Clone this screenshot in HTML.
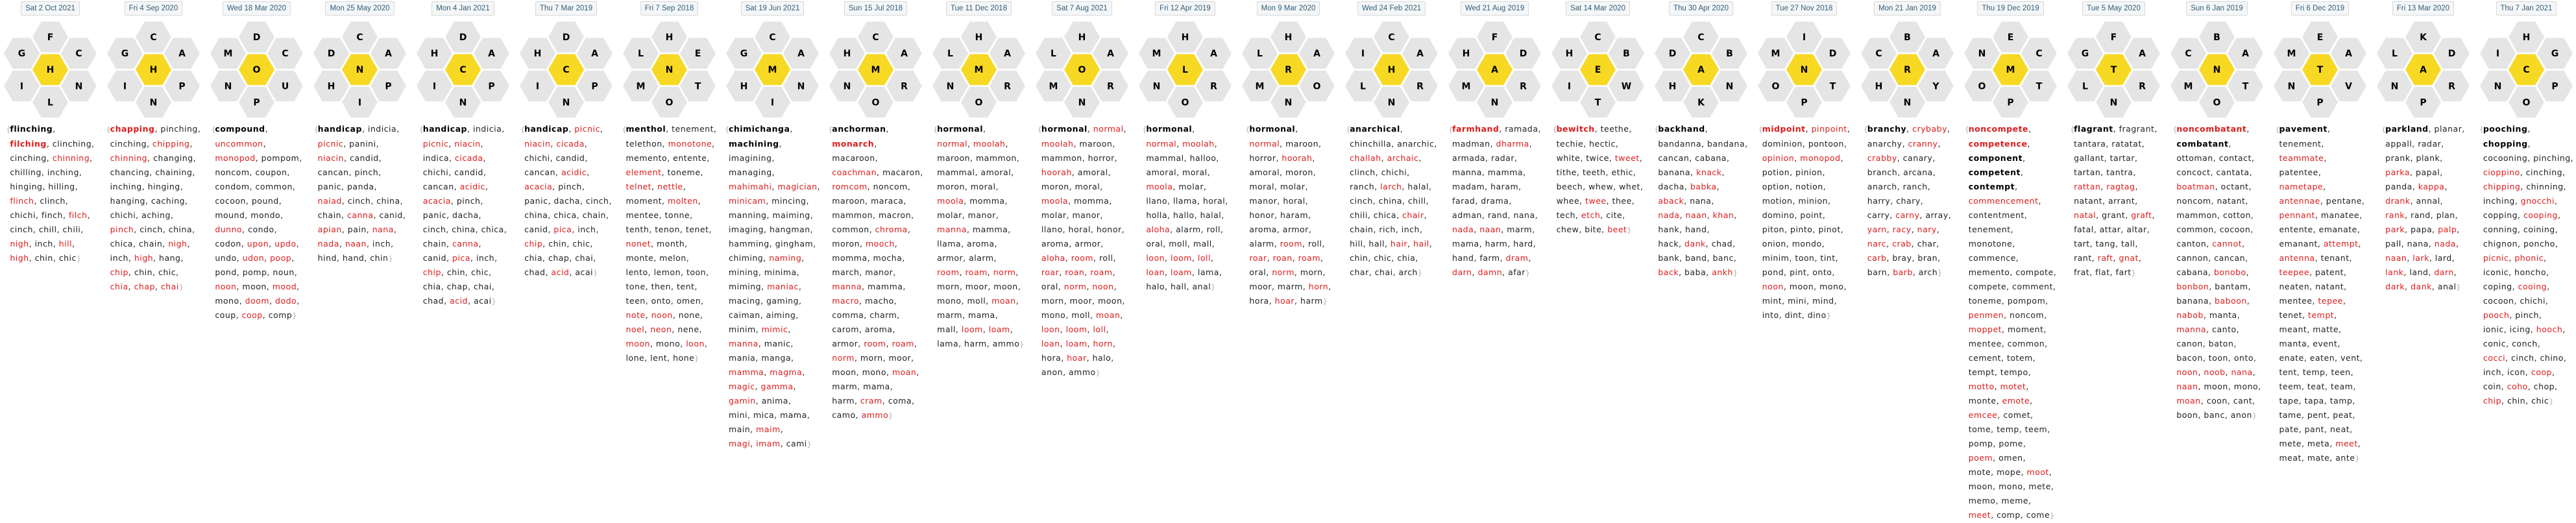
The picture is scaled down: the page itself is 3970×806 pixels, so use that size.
<!DOCTYPE html>
<html><head><meta charset="utf-8">
<style>
html,body{margin:0;padding:0;background:#fff;}
body{width:3970px;height:802px;position:relative;overflow:hidden;}
.c{position:absolute;top:0;width:159px;height:802px;text-align:center;}
.d{display:inline-block;margin-top:2px;height:20px;line-height:20px;padding:0 6px;border:1px solid #d8d8d8;border-radius:2px;background:#f5f6f7;font-family:"Liberation Sans",sans-serif;font-size:11.5px;color:#2f5d7c;white-space:nowrap;}
.w{position:absolute;top:188px;left:0;width:159px;text-align:center;}
.b{display:inline-block;text-align:left;padding-left:6px;font-family:"DejaVu Sans","Liberation Sans",sans-serif;font-size:12.5px;line-height:22px;letter-spacing:0.5px;color:#222;white-space:nowrap;}
.b i{font-style:normal;color:#e01b1b;}
.b b{font-weight:bold;color:#000;}
.b b.r{color:#e01b1b;}
.o{display:inline-block;width:6px;margin-left:-6px;color:#aaa;font-size:11px;letter-spacing:0;}
.e{color:#aaa;font-size:11px;}
svg text{font-family:"DejaVu Sans","Liberation Sans",sans-serif;font-weight:bold;font-size:14px;text-anchor:middle;fill:#000;}
</style></head><body>

<svg width="3970" height="190" style="position:absolute;left:0;top:0" xmlns="http://www.w3.org/2000/svg">
<defs>
<polygon id="h" points="-27.5,0 -13.75,-23.8 13.75,-23.8 27.5,0 13.75,23.8 -13.75,23.8"/>
<g id="k">
<use href="#h" x="0" y="57" fill="#e5e5e5"/>
<use href="#h" x="-44" y="82.2" fill="#e5e5e5"/>
<use href="#h" x="44" y="82.2" fill="#e5e5e5"/>
<use href="#h" x="0" y="107.3" fill="#f7d923"/>
<use href="#h" x="-44" y="132.5" fill="#e5e5e5"/>
<use href="#h" x="44" y="132.5" fill="#e5e5e5"/>
<use href="#h" x="0" y="157.5" fill="#e5e5e5"/>
</g>
</defs>
<g transform="translate(77.5,0)"><use href="#k"/><text x="0" y="62">F</text><text x="-44" y="87">G</text><text x="44" y="87">C</text><text x="0" y="112">H</text><text x="-44" y="137.5">I</text><text x="44" y="137.5">N</text><text x="0" y="162.5">L</text></g>
<g transform="translate(236.5,0)"><use href="#k"/><text x="0" y="62">C</text><text x="-44" y="87">G</text><text x="44" y="87">A</text><text x="0" y="112">H</text><text x="-44" y="137.5">I</text><text x="44" y="137.5">P</text><text x="0" y="162.5">N</text></g>
<g transform="translate(395.5,0)"><use href="#k"/><text x="0" y="62">D</text><text x="-44" y="87">M</text><text x="44" y="87">C</text><text x="0" y="112">O</text><text x="-44" y="137.5">N</text><text x="44" y="137.5">U</text><text x="0" y="162.5">P</text></g>
<g transform="translate(554.5,0)"><use href="#k"/><text x="0" y="62">C</text><text x="-44" y="87">D</text><text x="44" y="87">A</text><text x="0" y="112">N</text><text x="-44" y="137.5">H</text><text x="44" y="137.5">P</text><text x="0" y="162.5">I</text></g>
<g transform="translate(713.5,0)"><use href="#k"/><text x="0" y="62">D</text><text x="-44" y="87">H</text><text x="44" y="87">A</text><text x="0" y="112">C</text><text x="-44" y="137.5">I</text><text x="44" y="137.5">P</text><text x="0" y="162.5">N</text></g>
<g transform="translate(872.5,0)"><use href="#k"/><text x="0" y="62">D</text><text x="-44" y="87">H</text><text x="44" y="87">A</text><text x="0" y="112">C</text><text x="-44" y="137.5">I</text><text x="44" y="137.5">P</text><text x="0" y="162.5">N</text></g>
<g transform="translate(1031.5,0)"><use href="#k"/><text x="0" y="62">H</text><text x="-44" y="87">L</text><text x="44" y="87">E</text><text x="0" y="112">N</text><text x="-44" y="137.5">M</text><text x="44" y="137.5">T</text><text x="0" y="162.5">O</text></g>
<g transform="translate(1190.5,0)"><use href="#k"/><text x="0" y="62">C</text><text x="-44" y="87">G</text><text x="44" y="87">A</text><text x="0" y="112">M</text><text x="-44" y="137.5">H</text><text x="44" y="137.5">N</text><text x="0" y="162.5">I</text></g>
<g transform="translate(1349.5,0)"><use href="#k"/><text x="0" y="62">C</text><text x="-44" y="87">H</text><text x="44" y="87">A</text><text x="0" y="112">M</text><text x="-44" y="137.5">N</text><text x="44" y="137.5">R</text><text x="0" y="162.5">O</text></g>
<g transform="translate(1508.5,0)"><use href="#k"/><text x="0" y="62">H</text><text x="-44" y="87">L</text><text x="44" y="87">A</text><text x="0" y="112">M</text><text x="-44" y="137.5">N</text><text x="44" y="137.5">R</text><text x="0" y="162.5">O</text></g>
<g transform="translate(1667.5,0)"><use href="#k"/><text x="0" y="62">H</text><text x="-44" y="87">L</text><text x="44" y="87">A</text><text x="0" y="112">O</text><text x="-44" y="137.5">M</text><text x="44" y="137.5">R</text><text x="0" y="162.5">N</text></g>
<g transform="translate(1826.5,0)"><use href="#k"/><text x="0" y="62">H</text><text x="-44" y="87">M</text><text x="44" y="87">A</text><text x="0" y="112">L</text><text x="-44" y="137.5">N</text><text x="44" y="137.5">R</text><text x="0" y="162.5">O</text></g>
<g transform="translate(1985.5,0)"><use href="#k"/><text x="0" y="62">H</text><text x="-44" y="87">L</text><text x="44" y="87">A</text><text x="0" y="112">R</text><text x="-44" y="137.5">M</text><text x="44" y="137.5">O</text><text x="0" y="162.5">N</text></g>
<g transform="translate(2144.5,0)"><use href="#k"/><text x="0" y="62">C</text><text x="-44" y="87">I</text><text x="44" y="87">A</text><text x="0" y="112">H</text><text x="-44" y="137.5">L</text><text x="44" y="137.5">R</text><text x="0" y="162.5">N</text></g>
<g transform="translate(2303.5,0)"><use href="#k"/><text x="0" y="62">F</text><text x="-44" y="87">H</text><text x="44" y="87">D</text><text x="0" y="112">A</text><text x="-44" y="137.5">M</text><text x="44" y="137.5">R</text><text x="0" y="162.5">N</text></g>
<g transform="translate(2462.5,0)"><use href="#k"/><text x="0" y="62">C</text><text x="-44" y="87">H</text><text x="44" y="87">B</text><text x="0" y="112">E</text><text x="-44" y="137.5">I</text><text x="44" y="137.5">W</text><text x="0" y="162.5">T</text></g>
<g transform="translate(2621.5,0)"><use href="#k"/><text x="0" y="62">C</text><text x="-44" y="87">D</text><text x="44" y="87">B</text><text x="0" y="112">A</text><text x="-44" y="137.5">H</text><text x="44" y="137.5">N</text><text x="0" y="162.5">K</text></g>
<g transform="translate(2780.5,0)"><use href="#k"/><text x="0" y="62">I</text><text x="-44" y="87">M</text><text x="44" y="87">D</text><text x="0" y="112">N</text><text x="-44" y="137.5">O</text><text x="44" y="137.5">T</text><text x="0" y="162.5">P</text></g>
<g transform="translate(2939.5,0)"><use href="#k"/><text x="0" y="62">B</text><text x="-44" y="87">C</text><text x="44" y="87">A</text><text x="0" y="112">R</text><text x="-44" y="137.5">H</text><text x="44" y="137.5">Y</text><text x="0" y="162.5">N</text></g>
<g transform="translate(3098.5,0)"><use href="#k"/><text x="0" y="62">E</text><text x="-44" y="87">N</text><text x="44" y="87">C</text><text x="0" y="112">M</text><text x="-44" y="137.5">O</text><text x="44" y="137.5">T</text><text x="0" y="162.5">P</text></g>
<g transform="translate(3257.5,0)"><use href="#k"/><text x="0" y="62">F</text><text x="-44" y="87">G</text><text x="44" y="87">A</text><text x="0" y="112">T</text><text x="-44" y="137.5">L</text><text x="44" y="137.5">R</text><text x="0" y="162.5">N</text></g>
<g transform="translate(3416.5,0)"><use href="#k"/><text x="0" y="62">B</text><text x="-44" y="87">C</text><text x="44" y="87">A</text><text x="0" y="112">N</text><text x="-44" y="137.5">M</text><text x="44" y="137.5">T</text><text x="0" y="162.5">O</text></g>
<g transform="translate(3575.5,0)"><use href="#k"/><text x="0" y="62">E</text><text x="-44" y="87">M</text><text x="44" y="87">A</text><text x="0" y="112">T</text><text x="-44" y="137.5">N</text><text x="44" y="137.5">V</text><text x="0" y="162.5">P</text></g>
<g transform="translate(3734.5,0)"><use href="#k"/><text x="0" y="62">K</text><text x="-44" y="87">L</text><text x="44" y="87">D</text><text x="0" y="112">A</text><text x="-44" y="137.5">N</text><text x="44" y="137.5">R</text><text x="0" y="162.5">P</text></g>
<g transform="translate(3893.5,0)"><use href="#k"/><text x="0" y="62">H</text><text x="-44" y="87">I</text><text x="44" y="87">G</text><text x="0" y="112">C</text><text x="-44" y="137.5">N</text><text x="44" y="137.5">P</text><text x="0" y="162.5">O</text></g>
</svg>

<div class="c" style="left:-2px"><div class="d">Sat 2 Oct 2021</div><div class="w"><div class="b"><span class="o">{</span><b>flinching</b>,<br><b class="r">filching</b>, clinching,<br>cinching, <i>chinning</i>,<br>chilling, inching,<br>hinging, hilling,<br><i>flinch</i>, clinch,<br>chichi, finch, <i>filch</i>,<br>cinch, chill, chili,<br><i>nigh</i>, inch, <i>hill</i>,<br><i>high</i>, chin, chic<span class="e">}</span></div></div></div>

<div class="c" style="left:157px"><div class="d">Fri 4 Sep 2020</div><div class="w"><div class="b"><span class="o">{</span><b class="r">chapping</b>, pinching,<br>cinching, <i>chipping</i>,<br><i>chinning</i>, changing,<br>chancing, chaining,<br>inching, hinging,<br>hanging, caching,<br>chichi, aching,<br><i>pinch</i>, cinch, china,<br>chica, chain, <i>nigh</i>,<br>inch, <i>high</i>, hang,<br><i>chip</i>, chin, chic,<br><i>chia</i>, <i>chap</i>, <i>chai</i><span class="e">}</span></div></div></div>

<div class="c" style="left:316px"><div class="d">Wed 18 Mar 2020</div><div class="w"><div class="b"><span class="o">{</span><b>compound</b>,<br><i>uncommon</i>,<br><i>monopod</i>, pompom,<br>noncom, coupon,<br>condom, common,<br>cocoon, pound,<br>mound, mondo,<br><i>dunno</i>, condo,<br>codon, <i>upon</i>, <i>updo</i>,<br>undo, <i>udon</i>, <i>poop</i>,<br>pond, pomp, noun,<br><i>noon</i>, moon, <i>mood</i>,<br>mono, <i>doom</i>, <i>dodo</i>,<br>coup, <i>coop</i>, comp<span class="e">}</span></div></div></div>

<div class="c" style="left:475px"><div class="d">Mon 25 May 2020</div><div class="w"><div class="b"><span class="o">{</span><b>handicap</b>, indicia,<br><i>picnic</i>, panini,<br><i>niacin</i>, candid,<br>cancan, pinch,<br>panic, panda,<br><i>naiad</i>, cinch, china,<br>chain, <i>canna</i>, canid,<br><i>apian</i>, pain, <i>nana</i>,<br><i>nada</i>, <i>naan</i>, inch,<br>hind, hand, chin<span class="e">}</span></div></div></div>

<div class="c" style="left:634px"><div class="d">Mon 4 Jan 2021</div><div class="w"><div class="b"><span class="o">{</span><b>handicap</b>, indicia,<br><i>picnic</i>, <i>niacin</i>,<br>indica, <i>cicada</i>,<br>chichi, candid,<br>cancan, <i>acidic</i>,<br><i>acacia</i>, pinch,<br>panic, dacha,<br>cinch, china, chica,<br>chain, <i>canna</i>,<br>canid, <i>pica</i>, inch,<br><i>chip</i>, chin, chic,<br>chia, chap, chai,<br>chad, <i>acid</i>, acai<span class="e">}</span></div></div></div>

<div class="c" style="left:793px"><div class="d">Thu 7 Mar 2019</div><div class="w"><div class="b"><span class="o">{</span><b>handicap</b>, <i>picnic</i>,<br><i>niacin</i>, <i>cicada</i>,<br>chichi, candid,<br>cancan, <i>acidic</i>,<br><i>acacia</i>, pinch,<br>panic, dacha, cinch,<br>china, chica, chain,<br>canid, <i>pica</i>, inch,<br><i>chip</i>, chin, chic,<br>chia, chap, chai,<br>chad, <i>acid</i>, acai<span class="e">}</span></div></div></div>

<div class="c" style="left:952px"><div class="d">Fri 7 Sep 2018</div><div class="w"><div class="b"><span class="o">{</span><b>menthol</b>, tenement,<br>telethon, <i>monotone</i>,<br>memento, entente,<br><i>element</i>, toneme,<br><i>telnet</i>, <i>nettle</i>,<br>moment, <i>molten</i>,<br>mentee, tonne,<br>tenth, tenon, tenet,<br><i>nonet</i>, month,<br>monte, melon,<br>lento, lemon, toon,<br>tone, then, tent,<br>teen, onto, omen,<br><i>note</i>, <i>noon</i>, none,<br><i>noel</i>, <i>neon</i>, nene,<br><i>moon</i>, mono, <i>loon</i>,<br>lone, lent, hone<span class="e">}</span></div></div></div>

<div class="c" style="left:1111px"><div class="d">Sat 19 Jun 2021</div><div class="w"><div class="b"><span class="o">{</span><b>chimichanga</b>,<br><b>machining</b>,<br>imagining,<br>managing,<br><i>mahimahi</i>, <i>magician</i>,<br><i>minicam</i>, mincing,<br>manning, maiming,<br>imaging, hangman,<br>hamming, gingham,<br>chiming, <i>naming</i>,<br>mining, minima,<br>miming, <i>maniac</i>,<br>macing, gaming,<br>caiman, aiming,<br>minim, <i>mimic</i>,<br><i>manna</i>, manic,<br>mania, manga,<br><i>mamma</i>, <i>magma</i>,<br><i>magic</i>, <i>gamma</i>,<br><i>gamin</i>, anima,<br>mini, mica, mama,<br>main, <i>maim</i>,<br><i>magi</i>, <i>imam</i>, cami<span class="e">}</span></div></div></div>

<div class="c" style="left:1270px"><div class="d">Sun 15 Jul 2018</div><div class="w"><div class="b"><span class="o">{</span><b>anchorman</b>,<br><b class="r">monarch</b>,<br>macaroon,<br><i>coachman</i>, macaron,<br><i>romcom</i>, noncom,<br>maroon, maraca,<br>mammon, macron,<br>common, <i>chroma</i>,<br>moron, <i>mooch</i>,<br>momma, mocha,<br>march, manor,<br><i>manna</i>, mamma,<br><i>macro</i>, macho,<br>comma, charm,<br>carom, aroma,<br>armor, <i>room</i>, <i>roam</i>,<br><i>norm</i>, morn, moor,<br>moon, mono, <i>moan</i>,<br>marm, mama,<br>harm, <i>cram</i>, coma,<br>camo, <i>ammo</i><span class="e">}</span></div></div></div>

<div class="c" style="left:1429px"><div class="d">Tue 11 Dec 2018</div><div class="w"><div class="b"><span class="o">{</span><b>hormonal</b>,<br><i>normal</i>, <i>moolah</i>,<br>maroon, mammon,<br>mammal, amoral,<br>moron, moral,<br><i>moola</i>, momma,<br>molar, manor,<br><i>manna</i>, mamma,<br>llama, aroma,<br>armor, alarm,<br><i>room</i>, <i>roam</i>, <i>norm</i>,<br>morn, moor, moon,<br>mono, moll, <i>moan</i>,<br>marm, mama,<br>mall, <i>loom</i>, <i>loam</i>,<br>lama, harm, ammo<span class="e">}</span></div></div></div>

<div class="c" style="left:1588px"><div class="d">Sat 7 Aug 2021</div><div class="w"><div class="b"><span class="o">{</span><b>hormonal</b>, <i>normal</i>,<br><i>moolah</i>, maroon,<br>mammon, horror,<br><i>hoorah</i>, amoral,<br>moron, moral,<br><i>moola</i>, momma,<br>molar, manor,<br>llano, horal, honor,<br>aroma, armor,<br><i>aloha</i>, <i>room</i>, roll,<br><i>roar</i>, <i>roan</i>, <i>roam</i>,<br>oral, <i>norm</i>, <i>noon</i>,<br>morn, moor, moon,<br>mono, moll, <i>moan</i>,<br><i>loon</i>, <i>loom</i>, <i>loll</i>,<br><i>loan</i>, <i>loam</i>, <i>horn</i>,<br>hora, <i>hoar</i>, halo,<br>anon, ammo<span class="e">}</span></div></div></div>

<div class="c" style="left:1747px"><div class="d">Fri 12 Apr 2019</div><div class="w"><div class="b"><span class="o">{</span><b>hormonal</b>,<br><i>normal</i>, <i>moolah</i>,<br>mammal, halloo,<br>amoral, moral,<br><i>moola</i>, molar,<br>llano, llama, horal,<br>holla, hallo, halal,<br><i>aloha</i>, alarm, roll,<br>oral, moll, mall,<br><i>loon</i>, <i>loom</i>, <i>loll</i>,<br><i>loan</i>, <i>loam</i>, lama,<br>halo, hall, anal<span class="e">}</span></div></div></div>

<div class="c" style="left:1906px"><div class="d">Mon 9 Mar 2020</div><div class="w"><div class="b"><span class="o">{</span><b>hormonal</b>,<br><i>normal</i>, maroon,<br>horror, <i>hoorah</i>,<br>amoral, moron,<br>moral, molar,<br>manor, horal,<br>honor, haram,<br>aroma, armor,<br>alarm, <i>room</i>, roll,<br><i>roar</i>, <i>roan</i>, <i>roam</i>,<br>oral, <i>norm</i>, morn,<br>moor, marm, <i>horn</i>,<br>hora, <i>hoar</i>, harm<span class="e">}</span></div></div></div>

<div class="c" style="left:2065px"><div class="d">Wed 24 Feb 2021</div><div class="w"><div class="b"><span class="o">{</span><b>anarchical</b>,<br>chinchilla, anarchic,<br><i>challah</i>, <i>archaic</i>,<br>clinch, chichi,<br>ranch, <i>larch</i>, halal,<br>cinch, china, chill,<br>chili, chica, <i>chair</i>,<br>chain, rich, inch,<br>hill, hall, <i>hair</i>, <i>hail</i>,<br>chin, chic, chia,<br>char, chai, arch<span class="e">}</span></div></div></div>

<div class="c" style="left:2224px"><div class="d">Wed 21 Aug 2019</div><div class="w"><div class="b"><span class="o">{</span><b class="r">farmhand</b>, ramada,<br>madman, <i>dharma</i>,<br>armada, radar,<br>manna, mamma,<br>madam, haram,<br>farad, drama,<br>adman, rand, nana,<br><i>nada</i>, <i>naan</i>, marm,<br>mama, harm, hard,<br>hand, farm, <i>dram</i>,<br><i>darn</i>, <i>damn</i>, afar<span class="e">}</span></div></div></div>

<div class="c" style="left:2383px"><div class="d">Sat 14 Mar 2020</div><div class="w"><div class="b"><span class="o">{</span><b class="r">bewitch</b>, teethe,<br>techie, hectic,<br>white, twice, <i>tweet</i>,<br>tithe, teeth, ethic,<br>beech, whew, whet,<br>whee, <i>twee</i>, thee,<br>tech, <i>etch</i>, cite,<br>chew, bite, <i>beet</i><span class="e">}</span></div></div></div>

<div class="c" style="left:2542px"><div class="d">Thu 30 Apr 2020</div><div class="w"><div class="b"><span class="o">{</span><b>backhand</b>,<br>bandanna, bandana,<br>cancan, cabana,<br>banana, <i>knack</i>,<br>dacha, <i>babka</i>,<br><i>aback</i>, nana,<br><i>nada</i>, <i>naan</i>, <i>khan</i>,<br>hank, hand,<br>hack, <i>dank</i>, chad,<br>bank, band, banc,<br><i>back</i>, baba, <i>ankh</i><span class="e">}</span></div></div></div>

<div class="c" style="left:2701px"><div class="d">Tue 27 Nov 2018</div><div class="w"><div class="b"><span class="o">{</span><b class="r">midpoint</b>, <i>pinpoint</i>,<br>dominion, pontoon,<br><i>opinion</i>, <i>monopod</i>,<br>potion, pinion,<br>option, notion,<br>motion, minion,<br>domino, point,<br>piton, pinto, pinot,<br>onion, mondo,<br>minim, toon, tint,<br>pond, pint, onto,<br><i>noon</i>, moon, mono,<br>mint, mini, mind,<br>into, dint, dino<span class="e">}</span></div></div></div>

<div class="c" style="left:2860px"><div class="d">Mon 21 Jan 2019</div><div class="w"><div class="b"><span class="o">{</span><b>branchy</b>, <i>crybaby</i>,<br>anarchy, <i>cranny</i>,<br><i>crabby</i>, canary,<br>branch, arcana,<br>anarch, ranch,<br>harry, chary,<br>carry, <i>carny</i>, array,<br><i>yarn</i>, <i>racy</i>, <i>nary</i>,<br><i>narc</i>, <i>crab</i>, char,<br><i>carb</i>, bray, bran,<br>barn, <i>barb</i>, arch<span class="e">}</span></div></div></div>

<div class="c" style="left:3019px"><div class="d">Thu 19 Dec 2019</div><div class="w"><div class="b"><span class="o">{</span><b class="r">noncompete</b>,<br><b class="r">competence</b>,<br><b>component</b>,<br><b>competent</b>,<br><b>contempt</b>,<br><i>commencement</i>,<br>contentment,<br>tenement,<br>monotone,<br>commence,<br>memento, compote,<br>compete, comment,<br>toneme, pompom,<br><i>penmen</i>, noncom,<br><i>moppet</i>, moment,<br>mentee, common,<br>cement, totem,<br>tempt, tempo,<br><i>motto</i>, <i>motet</i>,<br>monte, <i>emote</i>,<br><i>emcee</i>, comet,<br>tome, temp, teem,<br>pomp, pome,<br><i>poem</i>, omen,<br>mote, mope, <i>moot</i>,<br>moon, mono, mete,<br>memo, meme,<br><i>meet</i>, comp, come<span class="e">}</span></div></div></div>

<div class="c" style="left:3178px"><div class="d">Tue 5 May 2020</div><div class="w"><div class="b"><span class="o">{</span><b>flagrant</b>, fragrant,<br>tantara, ratatat,<br>gallant, tartar,<br>tartan, tantra,<br><i>rattan</i>, <i>ragtag</i>,<br>natant, arrant,<br><i>natal</i>, grant, <i>graft</i>,<br>fatal, attar, altar,<br>tart, tang, tall,<br>rant, <i>raft</i>, <i>gnat</i>,<br>frat, flat, fart<span class="e">}</span></div></div></div>

<div class="c" style="left:3337px"><div class="d">Sun 6 Jan 2019</div><div class="w"><div class="b"><span class="o">{</span><b class="r">noncombatant</b>,<br><b>combatant</b>,<br>ottoman, contact,<br>concoct, cantata,<br><i>boatman</i>, octant,<br>noncom, natant,<br>mammon, cotton,<br>common, cocoon,<br>canton, <i>cannot</i>,<br>cannon, cancan,<br>cabana, <i>bonobo</i>,<br><i>bonbon</i>, bantam,<br>banana, <i>baboon</i>,<br><i>nabob</i>, manta,<br><i>manna</i>, canto,<br>canon, baton,<br>bacon, toon, onto,<br><i>noon</i>, <i>noob</i>, <i>nana</i>,<br><i>naan</i>, moon, mono,<br><i>moan</i>, coon, cant,<br>boon, banc, anon<span class="e">}</span></div></div></div>

<div class="c" style="left:3496px"><div class="d">Fri 6 Dec 2019</div><div class="w"><div class="b"><span class="o">{</span><b>pavement</b>,<br>tenement,<br><i>teammate</i>,<br>patentee,<br><i>nametape</i>,<br><i>antennae</i>, pentane,<br><i>pennant</i>, manatee,<br>entente, emanate,<br>emanant, <i>attempt</i>,<br><i>antenna</i>, tenant,<br><i>teepee</i>, patent,<br>neaten, natant,<br>mentee, <i>tepee</i>,<br>tenet, <i>tempt</i>,<br>meant, matte,<br>manta, event,<br>enate, eaten, vent,<br>tent, temp, teen,<br>teem, teat, team,<br>tape, tapa, tamp,<br>tame, pent, peat,<br>pate, pant, neat,<br>mete, meta, <i>meet</i>,<br>meat, mate, ante<span class="e">}</span></div></div></div>

<div class="c" style="left:3655px"><div class="d">Fri 13 Mar 2020</div><div class="w"><div class="b"><span class="o">{</span><b>parkland</b>, planar,<br>appall, radar,<br>prank, plank,<br><i>parka</i>, papal,<br>panda, <i>kappa</i>,<br><i>drank</i>, annal,<br><i>rank</i>, rand, plan,<br><i>park</i>, papa, <i>palp</i>,<br>pall, nana, <i>nada</i>,<br><i>naan</i>, <i>lark</i>, lard,<br><i>lank</i>, land, <i>darn</i>,<br><i>dark</i>, <i>dank</i>, anal<span class="e">}</span></div></div></div>

<div class="c" style="left:3814px"><div class="d">Thu 7 Jan 2021</div><div class="w"><div class="b"><span class="o">{</span><b>pooching</b>,<br><b>chopping</b>,<br>cocooning, pinching,<br><i>cioppino</i>, cinching,<br><i>chipping</i>, chinning,<br>inching, <i>gnocchi</i>,<br>copping, <i>cooping</i>,<br>conning, coining,<br>chignon, poncho,<br><i>picnic</i>, <i>phonic</i>,<br>iconic, honcho,<br>coping, <i>cooing</i>,<br>cocoon, chichi,<br><i>pooch</i>, pinch,<br>ionic, icing, <i>hooch</i>,<br>conic, conch,<br><i>cocci</i>, cinch, chino,<br>inch, icon, <i>coop</i>,<br>coin, <i>coho</i>, chop,<br><i>chip</i>, chin, chic<span class="e">}</span></div></div></div>

</body></html>
